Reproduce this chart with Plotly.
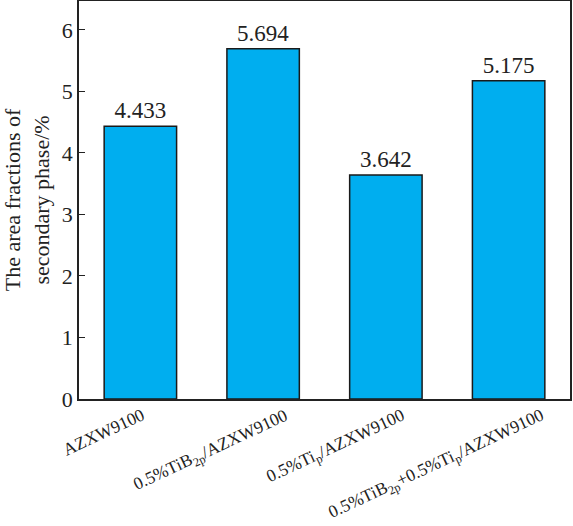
import plotly.graph_objects as go

# data
categories = [
    "AZXW9100",
    "0.5%TiB<sub>2p</sub>/AZXW9100",
    "0.5%Ti<sub>p</sub>/AZXW9100",
    "0.5%TiB<sub>2p</sub>+0.5%Ti<sub>p</sub>/AZXW9100",
]
area_fraction = [4.433, 5.694, 3.642, 5.175]
y_ticks = [0, 1, 2, 3, 4, 5, 6]

# horizontal nudge (px) of each rotated category label, as in the original
label_dx = [10, 32, 26, 42]

serif = "Liberation Serif"
ink = "#222222"

fig = go.Figure(go.Bar(
    x=categories,
    y=area_fraction,
    width=0.59,
    marker=dict(color="#00AEEF", line=dict(color="#1a1a1a", width=1.5)),
    text=[f"{v:.3f}" for v in area_fraction],
    textposition="outside",
    textfont=dict(family=serif, size=23, color=ink),
    cliponaxis=False,
))

# rotated category labels
for cat, dx in zip(categories, label_dx):
    fig.add_annotation(
        x=cat, y=0, xref="x", yref="y",
        text=cat, showarrow=False, textangle=-25,
        xanchor="right", yanchor="top", xshift=dx, yshift=-3,
        font=dict(family=serif, size=17.5, color=ink),
    )

fig.update_layout(
    width=573, height=526,
    margin=dict(l=79, r=3, t=1, b=127),
    plot_bgcolor="white", paper_bgcolor="white",
    showlegend=False,
    font=dict(family=serif, color=ink),
)
fig.update_xaxes(
    range=[-0.5, 3.5],
    showticklabels=False,
    showline=True, linecolor=ink, linewidth=1.5, mirror=True,
    ticks="", showgrid=False, automargin=False,
)
fig.update_yaxes(
    range=[0, 6.47],
    tickvals=y_ticks,
    ticks="inside", ticklen=6, tickcolor=ink, tickwidth=1,
    tickfont=dict(family=serif, size=22, color=ink),
    showline=True, linecolor=ink, linewidth=1.5, mirror=True,
    showgrid=False, zeroline=False, automargin=False,
    title=dict(text="The area fractions of<br>secondary phase/%",
               font=dict(family=serif, size=22, color=ink), standoff=8),
)

# drop the browser's default 8px body margin so the figure sits at the corner
fig.write_html("out.html", config={"displayModeBar": False},
               post_script="document.body.style.margin='0';")
